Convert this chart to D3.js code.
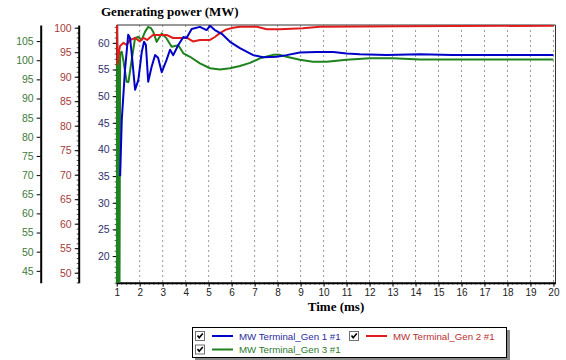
<!DOCTYPE html>
<html lang="en">
<head>
<meta charset="utf-8">
<title>Generating power</title>
<script src="https://cdn.jsdelivr.net/npm/d3@7"></script>
<style>
  body { margin: 0; background: #fff; }
  svg { display: block; font-family: "Liberation Sans", Arial, sans-serif; }
  .ttl { font-family: "Liberation Serif", "Times New Roman", serif; font-weight: bold; font-size: 13px; }
</style>
</head>
<body>
<script>
// ---- data ----
// Gen 1 (blue, inner axis)
var gen1T  = [1.15, 1.22, 1.36, 1.50, 1.58, 1.65, 1.80, 1.94, 2.09, 2.19, 2.27, 2.37, 2.52, 2.67, 2.80, 2.96, 3.17, 3.32, 3.46, 3.68, 3.90, 4.04, 4.26, 4.62, 4.91, 5.06, 5.27, 5.57, 5.93, 6.36, 6.94, 7.37, 7.96, 8.39, 8.97, 9.70, 10.42, 11.0, 11.58, 12.74, 14.19, 15.6, 20];
var gen1MW = [35, 45.5, 54.9, 61.5, 60.9, 58.1, 51.2, 53.0, 58.3, 60.2, 59.6, 52.7, 55.5, 57.7, 57.2, 54.5, 56.8, 58.7, 57.7, 59.6, 61.1, 60.9, 62.6, 63.0, 62.4, 63.2, 62.4, 61.7, 60.2, 59.0, 57.7, 57.3, 57.4, 57.7, 58.2, 58.3, 58.3, 58.0, 57.85, 57.7, 57.85, 57.7, 57.7];
// Gen 2 (red, middle axis)
var gen2T  = [1.0, 1.01, 1.04, 1.07, 1.14, 1.29, 1.43, 1.58, 1.80, 2.01, 2.16, 2.32, 2.58, 2.88, 3.19, 3.45, 3.75, 4.06, 4.32, 4.62, 5.06, 5.27, 5.49, 5.75, 6.06, 6.36, 7.1, 7.53, 8.1, 9.1, 9.84, 13.3, 20];
var gen2MW = [101, 100.5, 92.6, 94.1, 96.2, 96.9, 96.5, 97.5, 97.9, 97.2, 97.9, 97.5, 98.5, 98.5, 98.5, 97.9, 97.9, 97.9, 97.2, 97.5, 97.5, 98.1, 98.9, 99.6, 100.0, 100.2, 100.2, 99.7, 99.7, 99.9, 100.2, 100.3, 100.4];
// Gen 3 (green, outer axis)
var gen3T  = [1.0, 1.02, 1.04, 1.06, 1.08, 1.10, 1.12, 1.15, 1.22, 1.29, 1.43, 1.51, 1.65, 1.80, 1.93, 2.09, 2.23, 2.37, 2.49, 2.59, 2.74, 2.96, 3.17, 3.39, 3.68, 3.90, 4.19, 4.62, 5.06, 5.49, 5.93, 6.36, 6.80, 7.23, 7.8, 8.1, 8.39, 8.97, 9.53, 10.14, 11.0, 12.01, 13.01, 14.19, 20];
var gen3MW = [30, 100, 30, 101, 32, 100, 35, 101.8, 102.2, 100.0, 94.4, 94.3, 100.0, 105.8, 106.1, 105.3, 107.4, 108.7, 108.4, 107.4, 104.8, 107.0, 105.7, 103.5, 103.9, 101.8, 100.9, 99.2, 97.9, 97.6, 97.9, 98.5, 99.3, 100.5, 101.4, 101.4, 100.9, 100.1, 99.6, 99.6, 100.1, 100.5, 100.5, 100.2, 100.2];

var seriesNames = ["MW Terminal_Gen 1 #1", "MW Terminal_Gen 2 #1", "MW Terminal_Gen 3 #1"];
var xTicks = d3.range(1, 21);
var blueTicks = d3.range(20, 61, 5);
var redTicks = d3.range(50, 101, 5);
var greenTicks = d3.range(45, 106, 5);

// ---- layout ----
var w = 566, h = 360;
var pLeft = 116.7, pRight = 555.5, pTop = 25, pBottom = 282.7;
var blueCol = "#0000c8", redCol = "#e01c1c", greenCol = "#1e821e";

var svg = d3.select("body").append("svg").attr("width", w).attr("height", h);

var x = d3.scaleLinear().domain([1, 20.09]).range([pLeft, pRight]);
var yBlue = d3.scaleLinear().domain([15, 63.35]).range([pBottom, pTop]);
var yRed = d3.scaleLinear().domain([47.96, 100.55]).range([pBottom, pTop]);
var yGreen = d3.scaleLinear().domain([41.9, 109.2]).range([pBottom, pTop]);

// vertical dotted grid
svg.append("g").selectAll("line").data(xTicks.slice(1)).enter().append("line")
  .attr("x1", function(d) { return x(d); }).attr("x2", function(d) { return x(d); })
  .attr("y1", pTop).attr("y2", pBottom)
  .attr("stroke", "#9a9a9a").attr("stroke-dasharray", "2,3");

// frame top/right
svg.append("path")
  .attr("d", "M" + pLeft + "," + pTop + "H" + pRight + "V" + pBottom)
  .attr("fill", "none").attr("stroke", "#333").attr("stroke-width", 1);

// left axes
function yAxis(scale, ticks, xpos, col, minor) {
  if (minor) {
    svg.append("g").attr("transform", "translate(" + xpos + ",0)")
      .call(d3.axisLeft(scale).tickValues(d3.range(Math.ceil(scale.domain()[0]), scale.domain()[1], 1)).tickSize(2).tickFormat(""))
      .call(function(g) { g.select(".domain").remove(); g.selectAll("line").attr("stroke", "#555"); });
  }
  var g = svg.append("g").attr("transform", "translate(" + xpos + ",0)")
    .call(d3.axisLeft(scale).tickValues(ticks).tickSize(4).tickSizeOuter(0).tickPadding(3));
  g.select(".domain").attr("stroke", "#000").attr("stroke-width", 2);
  g.selectAll("text").attr("fill", col).style("font-size", "10.5px");
}
yAxis(yGreen, greenTicks, 40.7, "#3d7a3d", false);
yAxis(yRed, redTicks, 78.7, "#a83a3a", true);
yAxis(yBlue, blueTicks, pLeft, "#30306e", true);

// x axis
svg.append("g").attr("transform", "translate(0," + pBottom + ")")
  .call(d3.axisBottom(x).tickValues(d3.range(1, 20.01, 0.2)).tickSize(2).tickFormat(""))
  .call(function(g) { g.select(".domain").remove(); g.selectAll("line").attr("stroke", "#555"); });
var xg = svg.append("g").attr("transform", "translate(0," + pBottom + ")")
  .call(d3.axisBottom(x).tickValues(xTicks).tickSize(4).tickSizeOuter(0).tickPadding(2));
xg.select(".domain").attr("stroke", "#000").attr("stroke-width", 2);
xg.selectAll("text").attr("fill", "#222").style("font-size", "10px");

// lines
svg.append("clipPath").attr("id", "plot").append("rect")
  .attr("x", pLeft - 1).attr("y", pTop).attr("width", pRight - pLeft + 1).attr("height", pBottom - pTop);
var plot = svg.append("g").attr("clip-path", "url(#plot)");

function drawLine(ts, vs, scale, col) {
  var line = d3.line().x(function(d) { return x(d[0]); }).y(function(d) { return scale(d[1]); });
  plot.append("path").datum(d3.zip(ts, vs)).attr("d", line)
    .attr("fill", "none").attr("stroke", col).attr("stroke-width", 2).attr("stroke-linejoin", "round");
}
drawLine(gen3T, gen3MW, yGreen, greenCol);
drawLine(gen2T, gen2MW, yRed, redCol);
drawLine(gen1T, gen1MW, yBlue, blueCol);

// titles
svg.append("text").attr("class", "ttl").attr("x", 101).attr("y", 16).text("Generating power (MW)");
svg.append("text").attr("class", "ttl").attr("x", 336).attr("y", 311).attr("text-anchor", "middle").text("Time (ms)");

// legend
svg.append("rect").attr("x", 195).attr("y", 330).attr("width", 315).attr("height", 31).attr("fill", "#888");
svg.append("rect").attr("x", 192.5).attr("y", 327.5).attr("width", 314).attr("height", 30)
  .attr("fill", "#fff").attr("stroke", "#000");

var legendPos = [[200, 336], [354, 336], [200, 349.5]];
var legendCols = [blueCol, redCol, greenCol];
var legendTxt = ["#2a2aa0", "#b83030", "#2e7a2e"];
var lg = svg.append("g").selectAll("g").data(seriesNames).enter().append("g")
  .attr("transform", function(d, i) { return "translate(" + legendPos[i][0] + "," + legendPos[i][1] + ")"; });
lg.append("rect").attr("x", -4.5).attr("y", -4.5).attr("width", 9).attr("height", 9)
  .attr("fill", "#fff").attr("stroke", "#707070");
lg.append("path").attr("d", "M-2.5,-0.5L-0.8,1.8L2.8,-2.5").attr("fill", "none").attr("stroke", "#000").attr("stroke-width", 1.6);
lg.append("line").attr("x1", 12).attr("x2", 33).attr("y1", 0).attr("y2", 0)
  .attr("stroke", function(d, i) { return legendCols[i]; }).attr("stroke-width", 2);
lg.append("text").attr("x", 39).attr("y", 3.5).style("font-size", "9.7px")
  .attr("fill", function(d, i) { return legendTxt[i]; }).text(function(d) { return d; });
</script>
</body>
</html>
